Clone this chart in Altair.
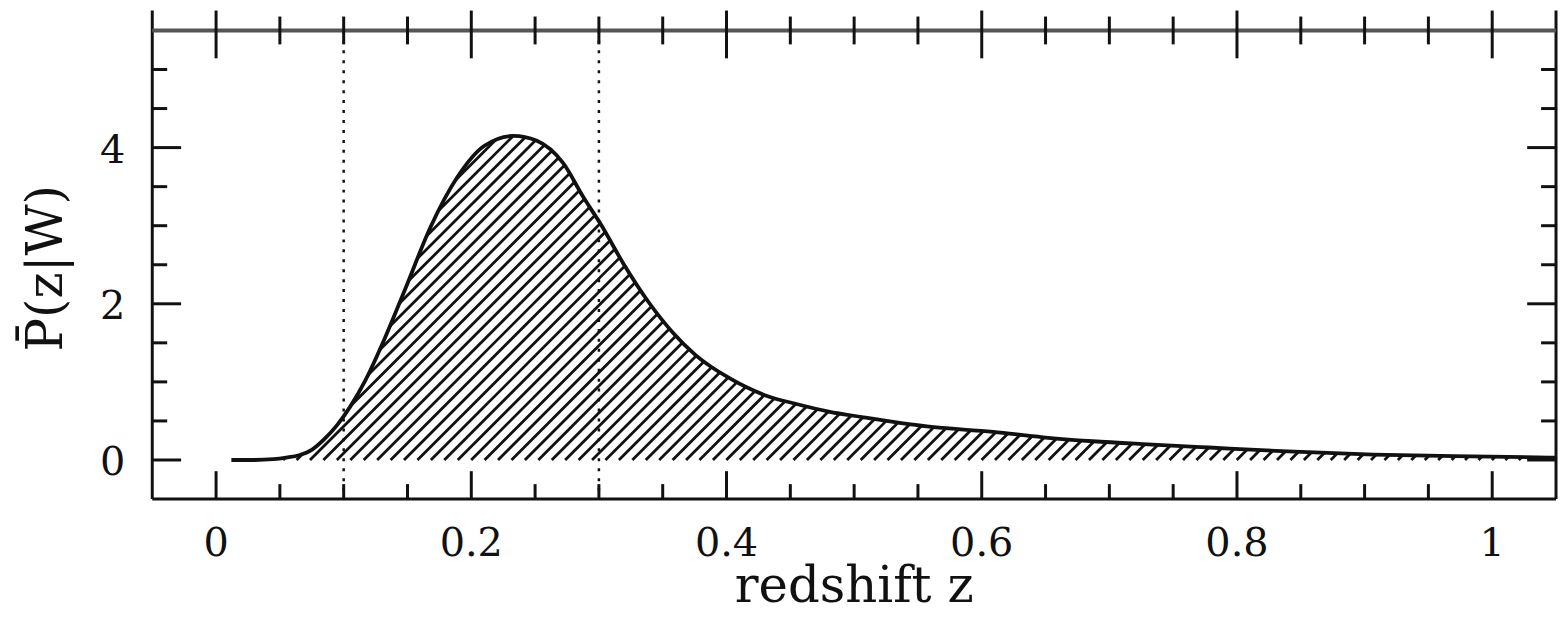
import numpy as np
import pandas as pd
import altair as alt

# ---- data ----
z_vals = [0.012, 0.03, 0.045, 0.055, 0.065, 0.075, 0.085, 0.095, 0.105, 0.117,
          0.132, 0.148, 0.168, 0.189, 0.210, 0.233, 0.251, 0.272, 0.288, 0.301,
          0.319, 0.339, 0.358, 0.376, 0.402, 0.430, 0.454, 0.480, 0.506, 0.557,
          0.609, 0.648, 0.687, 0.730, 0.778, 0.840, 0.907, 0.970, 1.050]
p_vals = [0.0, 0.0, 0.01, 0.03, 0.06, 0.13, 0.27, 0.45, 0.68, 1.02,
          1.55, 2.18, 2.98, 3.62, 4.02, 4.15, 4.09, 3.80, 3.36, 3.03,
          2.52, 2.02, 1.63, 1.34, 1.05, 0.83, 0.72, 0.62, 0.55, 0.43,
          0.36, 0.29, 0.24, 0.20, 0.16, 0.11, 0.07, 0.05, 0.03]
dotted_z = [0.1, 0.3]
x_major = [0, 0.2, 0.4, 0.6, 0.8, 1.0]
x_labels = ["0", "0.2", "0.4", "0.6", "0.8", "1"]
x_minor = [0.05, 0.1, 0.15, 0.25, 0.3, 0.35, 0.45, 0.5, 0.55, 0.65, 0.7, 0.75,
           0.85, 0.9, 0.95]
y_major = [0, 2, 4]
y_labels = ["0", "2", "4"]
y_minor = [0.5, 1, 1.5, 2.5, 3, 3.5, 4.5, 5]
x_domain = [-0.05, 1.05]
y_domain = [-0.5, 5.5]
x_title = "redshift z"
y_title = "P\u0304(z|W)"

W, H = 1411, 471
FONT = "DejaVu Serif"
INK = "#111111"

# ---- hatch segments clipped to the (monotone-interpolated) curve ----
zs = np.array(z_vals, dtype=float)
ps = np.array(p_vals, dtype=float)
hh = np.diff(zs)
ss = np.diff(ps) / hh
tt = np.zeros(len(zs))
for i in range(1, len(zs) - 1):
    h0, h1, s0, s1 = hh[i - 1], hh[i], ss[i - 1], ss[i]
    pp = (s0 * h1 + s1 * h0) / (h0 + h1)
    tt[i] = (np.sign(s0) + np.sign(s1)) * min(abs(s0), abs(s1), 0.5 * abs(pp))
tt[0] = (3 * ss[0] - tt[1]) / 2
tt[-1] = (3 * ss[-1] - tt[-2]) / 2
xx = np.linspace(zs[0], zs[-1], 40000)
idx = np.clip(np.searchsorted(zs, xx, side="right") - 1, 0, len(zs) - 2)
u = (xx - zs[idx]) / hh[idx]
ff = ((2 * u**3 - 3 * u**2 + 1) * ps[idx] + (u**3 - 2 * u**2 + u) * hh[idx] * tt[idx]
      + (-2 * u**3 + 3 * u**2) * ps[idx + 1] + (u**3 - u**2) * hh[idx] * tt[idx + 1])

kx = W / (x_domain[1] - x_domain[0])
ky = H / (y_domain[1] - y_domain[0])
slope = np.tan(np.radians(45)) * kx / ky
dc = 13.5 / kx
segs = []
for c in np.arange(-0.4, x_domain[1], dc):
    g = slope * (xx - c)
    m = (g >= 0) & (g <= ff)
    if not m.any():
        continue
    mi = m.astype(int)
    starts = np.where(np.diff(np.concatenate([[0], mi])) == 1)[0]
    ends = np.where(np.diff(np.concatenate([mi, [0]])) == -1)[0]
    for a, b in zip(starts, ends):
        lpx = np.hypot((xx[b] - xx[a]) * kx, (g[b] - g[a]) * ky)
        if lpx > 1.5:
            segs.append({"x1": xx[a], "y1": g[a], "x2": xx[b], "y2": g[b]})
hatch_df = pd.DataFrame(segs)

xs = alt.Scale(domain=x_domain, nice=False, zero=False)
ys = alt.Scale(domain=y_domain, nice=False, zero=False)

curve = alt.Chart(pd.DataFrame({"z": z_vals, "p": p_vals})).mark_line(
    color=INK, strokeWidth=3.8, interpolate="monotone").encode(
    x=alt.X("z:Q", scale=xs, axis=None),
    y=alt.Y("p:Q", scale=ys, axis=None))

hatch = alt.Chart(hatch_df).mark_rule(color=INK, strokeWidth=2.8).encode(
    x=alt.X("x1:Q", scale=xs, axis=None),
    y=alt.Y("y1:Q", scale=ys, axis=None),
    x2="x2:Q", y2="y2:Q")

dotted = alt.Chart(pd.DataFrame({"v": dotted_z})).mark_rule(
    color=INK, strokeWidth=2.5, strokeDash=[3, 7]).encode(
    x=alt.X("v:Q", scale=xs, axis=None), y=alt.value(0), y2=alt.value(H))

# frame
spines = alt.Chart(pd.DataFrame({"v": x_domain})).mark_rule(
    color=INK, strokeWidth=3).encode(
    x=alt.X("v:Q", scale=xs, axis=None), y=alt.value(-20), y2=alt.value(H))
bottom_line = alt.Chart(pd.DataFrame({"v": [y_domain[0]]})).mark_rule(
    color=INK, strokeWidth=3).encode(
    y=alt.Y("v:Q", scale=ys, axis=None), x=alt.value(0), x2=alt.value(W))
top_line = alt.Chart(pd.DataFrame({"v": [y_domain[1]]})).mark_rule(
    color="#555555", strokeWidth=4).encode(
    y=alt.Y("v:Q", scale=ys, axis=None), x=alt.value(0), x2=alt.value(W))


def yticks(vals, x0, x1):
    return alt.Chart(pd.DataFrame({"v": vals})).mark_rule(
        color=INK, strokeWidth=3).encode(
        y=alt.Y("v:Q", scale=ys, axis=None), x=alt.value(x0), x2=alt.value(x1))


def xticks(vals, y0, y1):
    return alt.Chart(pd.DataFrame({"v": vals})).mark_rule(
        color=INK, strokeWidth=3).encode(
        x=alt.X("v:Q", scale=xs, axis=None), y=alt.value(y0), y2=alt.value(y1))


ticks = [
    yticks(y_major, 0, 29), yticks(y_minor, 0, 15),
    yticks(y_major, W - 29, W), yticks(y_minor, W - 15, W),
    xticks(x_major, H - 28, H), xticks(x_minor, H - 15, H),
    xticks(x_major, -20, 28), xticks(x_minor, -14, 14),
]

# tick labels and titles
xlab = alt.Chart(pd.DataFrame({"v": x_major, "t": x_labels})).mark_text(
    font=FONT, fontSize=40, color=INK, align="center", baseline="alphabetic").encode(
    x=alt.X("v:Q", scale=xs, axis=None), y=alt.value(H + 57), text="t:N")
ylab = alt.Chart(pd.DataFrame({"v": y_major, "t": y_labels})).mark_text(
    font=FONT, fontSize=40, color=INK, align="right", baseline="middle", dy=3).encode(
    y=alt.Y("v:Q", scale=ys, axis=None), x=alt.value(-27), text="t:N")
xtit = alt.Chart(pd.DataFrame({"t": [x_title]})).mark_text(
    font=FONT, fontSize=50, color=INK, align="center", baseline="alphabetic").encode(
    x=alt.value(W / 2), y=alt.value(H + 103), text="t:N")
ytit = alt.Chart(pd.DataFrame({"t": [y_title]})).mark_text(
    font=FONT, fontSize=50, color=INK, align="center", baseline="alphabetic",
    angle=270).encode(
    x=alt.value(-91), y=alt.value(239), text="t:N")

chart = alt.layer(curve, hatch, dotted, spines, bottom_line, top_line, *ticks,
                  xlab, ylab, xtit, ytit).properties(
    width=W, height=H,
    autosize=alt.AutoSizeParams(type="none"),
    padding={"left": 145, "top": 21, "right": 2, "bottom": 117},
    background="white",
).configure_view(stroke=None)

chart.save("out.html", embed_options={"renderer": "svg", "actions": False})
